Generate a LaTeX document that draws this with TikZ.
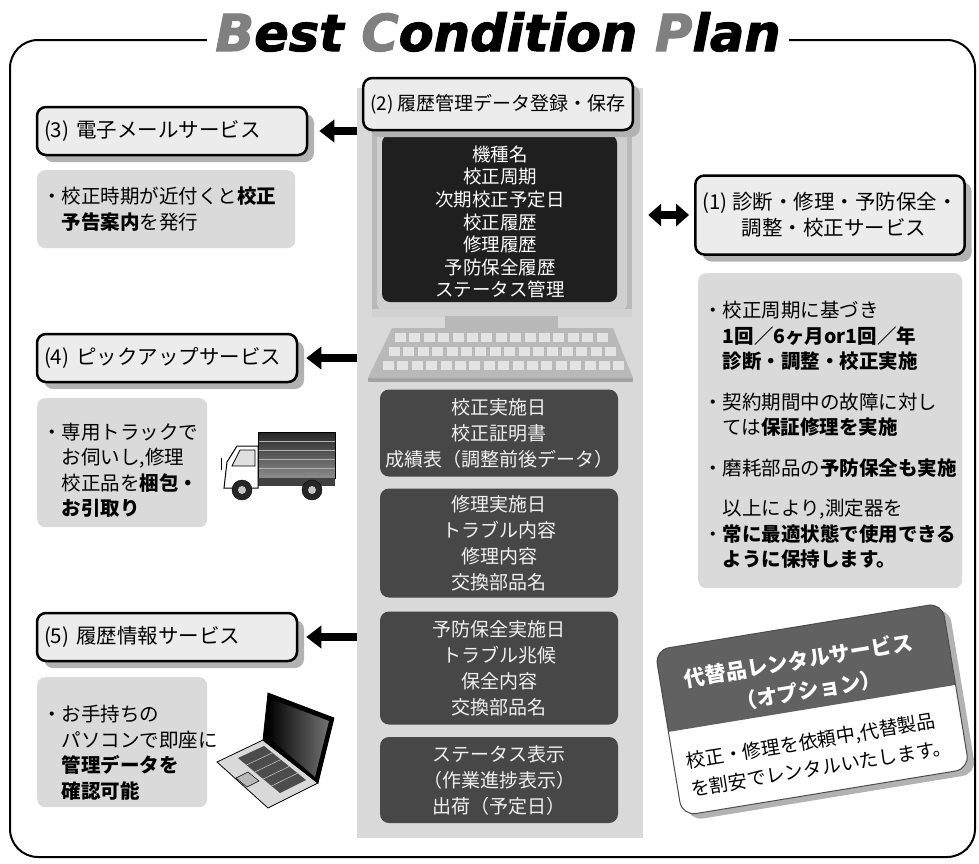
\documentclass[tikz,border=0pt]{standalone}
\usepackage{fontspec}
\setmainfont{Noto Sans CJK JP}
\newfontfamily\titlefont{DejaVu Sans}[BoldItalicFeatures={FakeBold=2}]
\usetikzlibrary{arrows.meta,shadows,positioning,calc}

\definecolor{panelgray}{HTML}{D9D9D9}
\definecolor{notegray}{HTML}{DADADA}
\definecolor{headgray}{HTML}{ECECEC}
\definecolor{cellgray}{HTML}{474747}
\definecolor{capgray}{HTML}{808080}

\tikzset{
  svc/.style={draw, line width=2.5pt, rounded corners=9pt, fill=headgray,
    inner xsep=7pt, font=\fontsize{20.5}{26}\selectfont,
    drop shadow={shadow xshift=7pt, shadow yshift=-7pt, fill=black!30, opacity=1}},
  note/.style={fill=notegray, rounded corners=8pt, anchor=north west, align=left,
    inner xsep=5pt, font=\fontsize{19.5}{25.5}\selectfont},
  cell/.style={fill=cellgray, rounded corners=9pt, text=white!94!black, align=center,
    minimum width=238pt, font=\fontsize{19}{26}\selectfont},
  fat/.style={line width=8pt, -{Triangle[width=22pt,length=15pt]}},
}

\begin{document}
\begin{tikzpicture}[x=1pt,y=-1pt]
\useasboundingbox (0,0) rectangle (979,863);

% frame and title
\draw[line width=2pt, rounded corners=28pt] (10,40) rectangle (975,857);
\node[fill=white, anchor=base, inner xsep=8pt, inner ysep=2pt] (title) at (498,51)
  {\titlefont\bfseries\itshape\fontsize{51}{51}\selectfont
   \textcolor{capgray}{B}est \textcolor{capgray}{C}ondition \textcolor{capgray}{P}lan};

% center column
\node[fill=panelgray, minimum width=286pt, minimum height=750pt, inner sep=0pt] (panel) at (500,463) {};

% monitor
\fill[gray!55] (372,128) rectangle (632,316);
\fill[gray!38, rounded corners=6pt] (377,131) rectangle (627,310);
\fill[black!88, rounded corners=8pt] (382,135) rectangle (617,302);
\fill[gray!35] (372,309) rectangle (632,317);
\fill[gray!55] (445,316) rectangle (558,328);
\fill[gray!55] (392,328) -- (613,328) -- (633,378) -- (368,378) -- cycle;
\fill[gray!72] (368,378) rectangle (633,382);
\foreach \ky/\kx/\kn in {333/395/15, 347/389/16, 361/383/17}
  \foreach \k in {1,...,\kn}
    \fill[gray!22] ({\kx+(\k-1)*14.4},\ky) rectangle +(11,9);
\node[text=white, align=center, font=\fontsize{18.5}{22.6}\selectfont] (screen) at (500,222)
  {機種名\\校正周期\\次期校正予定日\\校正履歴\\修理履歴\\予防保全履歴\\ステータス管理};

\node[svc, minimum width=269pt, minimum height=52pt, font=\fontsize{19}{24}\selectfont] (h2) at (498,104) {(2) 履歴管理データ登録・保存};

% record cells
\node[cell, minimum height=87pt] (c1) at (499,433) {校正実施日\\校正証明書\\成績表（調整前後データ）};
\node[cell, minimum height=109pt] (c2) at (499,543) {修理実施日\\トラブル内容\\修理内容\\交換部品名};
\node[cell, minimum height=113pt] (c3) at (499,668) {予防保全実施日\\トラブル兆候\\保全内容\\交換部品名};
\node[cell, minimum height=86pt] (c4) at (499,780) {ステータス表示\\（作業進捗表示）\\出荷（予定日）};

% services on the left
\node[svc, minimum width=270pt, minimum height=48pt, text width=256pt, align=left] (h3) at (172,131) {(3) 電子メールサービス};
\node[note, text width=248pt, minimum height=78pt] (n3) at (37,170)
  {・校正時期が近付くと\textbf{校正}\\\hspace*{1em}\textbf{予告案内}を発行};

\node[svc, minimum width=260pt, minimum height=48pt, text width=246pt, align=left] (h4) at (167,358) {(4) ピックアップサービス};
\node[note, text width=160pt, minimum height=129pt] (n4) at (37,398)
  {\rule{0pt}{31pt}・専用トラックで\\\hspace*{1em}お伺いし,修理\\\hspace*{1em}校正品を\textbf{梱包・}\\\hspace*{1em}\textbf{お引取り}};

\node[svc, minimum width=260pt, minimum height=48pt, text width=246pt, align=left] (h5) at (167,637) {(5) 履歴情報サービス};
\node[note, text width=160pt, minimum height=130pt] (n5) at (37,677)
  {\rule{0pt}{37pt}・お手持ちの\\\hspace*{1em}パソコンで即座に\\\hspace*{1em}\textbf{管理データを}\\\hspace*{1em}\textbf{確認可能}};

\draw[fat, shorten >=11pt] (panel.west |- h3.east) -- (h3.east);
\draw[fat, shorten >=8pt] (panel.west |- h4.east) -- (h4.east);
\draw[fat, shorten >=8pt] (panel.west |- h5.east) -- (h5.east);

% service on the right
\node[svc, minimum width=266pt, minimum height=79pt, align=center] (h1) at (830,215)
  {(1) 診断・修理・予防保全・\\\hspace*{0.4em}調整・校正サービス};
\draw[fat, {Triangle[width=22pt,length=13pt]}-{Triangle[width=22pt,length=13pt]}, shorten <=5pt, shorten >=5pt]
  (panel.east |- h1.west) -- (h1.west);
\node[note, text width=254pt, minimum height=315pt] (n1) at (698,273)
  {\rule{0pt}{25pt}・校正周期に基づき\\
   \hspace*{1em}\textbf{1回／6ヶ月or1回／年}\\
   \hspace*{1em}\textbf{診断・調整・校正実施}\\[15pt]
   ・契約期間中の故障に対し\\
   \hspace*{1em}ては\textbf{保証修理を実施}\\[15pt]
   ・磨耗部品の\textbf{予防保全も実施}\\[15pt]
   \hspace*{1em}以上により,測定器を\\
   ・\textbf{常に最適状態で使用できる}\\
   \hspace*{1em}\textbf{ように保持します。}};

% truck
\shade[top color=black!85, bottom color=black!45] (258,432) rectangle (335,478);
\foreach \s in {441,450,459,468} \draw[gray!60, line width=0.6pt] (258,\s) -- (335,\s);
\draw[line width=0.8pt] (258,432) rectangle (335,478);
\fill[black!75] (250,478) rectangle (335,486);
\draw[fill=white, line width=1pt] (258,446) -- (237,446) -- (227,462) -- (224,488) -- (258,488) -- cycle;
\draw[fill=gray!25, line width=0.7pt] (240,450) -- (255,450) -- (255,466) -- (232,466) -- cycle;
\draw[line width=1pt] (221,458) -- (221,470);
\foreach \wx in {242,312} {
  \draw[fill=black!85] (\wx,490) circle (10);
  \fill[gray!45] (\wx,490) circle (4);
}

% laptop
\draw[fill=gray!30, line width=0.8pt] (217,762) -- (263,740) -- (318,783) -- (268,808) -- cycle;
\fill[black!70] (238,758) -- (264,746) -- (306,780) -- (280,793) -- cycle;
\foreach \t in {0.2,0.4,0.6,0.8}
  \draw[white!80!black, line width=0.5pt] ($(238,758)!\t!(280,793)$) -- ($(264,746)!\t!(306,780)$);
\draw[fill=gray!55, line width=0.5pt] (236,778) -- (248,772) -- (259,781) -- (247,787) -- cycle;
\draw[fill=black, line width=0.8pt] (263,740) -- (268,693) -- (334,718) -- (318,783) -- cycle;
\shade[left color=black, right color=black!55] (267,736) -- (271,699) -- (329,721) -- (315,777) -- cycle;

% rental card
\begin{scope}[shift={(655,650)}, rotate=9.3]
  \fill[black!30, rounded corners=14pt] (6,6) rectangle (297,174);
  \fill[white, rounded corners=14pt] (0,0) rectangle (291,168);
  \fill[black!62] (0,83) [rounded corners=14pt] -- (0,0) -- (291,0) [sharp corners] -- (291,83) -- cycle;
  \draw[black!70, line width=1pt, rounded corners=14pt] (0,0) rectangle (291,168);
  \node[transform shape, text=white, align=center, font=\bfseries\fontsize{21}{31}\selectfont] (rental) at (140,49)
    {代替品レンタルサービス\\\hspace*{0.5em}（オプション）};
  \node[transform shape, align=left, font=\fontsize{19}{28}\selectfont] (rentalnote) at (145,129)
    {校正・修理を依頼中,代替製品\\を割安でレンタルいたします。};
\end{scope}
\end{tikzpicture}
\end{document}
